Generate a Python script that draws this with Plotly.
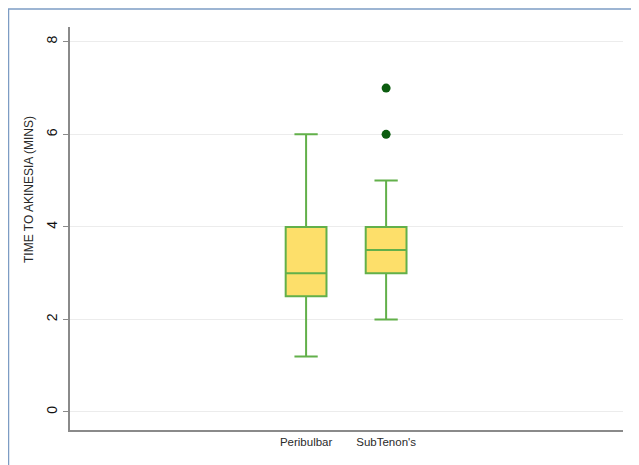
import plotly.graph_objects as go

categories = ["Peribulbar", "SubTenon's"]
q1 = [2.5, 3.0]
median = [3.0, 3.5]
q3 = [4.0, 4.0]
lower = [1.2, 2.0]
upper = [6.0, 5.0]
outlier_cat = ["SubTenon's", "SubTenon's"]
outlier_val = [6.0, 7.0]
y_ticks = [0, 2, 4, 6, 8]

# page body has an 8px margin; figure placed at (8, 8)
OFF = 8
W, H = 639 - OFF, 465 - OFF
L, R, T, B = 70 - OFF, 16, 27 - OFF, 35
pw, ph = W - L - R, H - T - B

def px_x(x):
    return (x - OFF - L) / pw

def px_y(y):
    return (H - B - (y - OFF)) / ph

fig = go.Figure()
fig.add_trace(go.Box(
    x=categories, q1=q1, median=median, q3=q3,
    lowerfence=lower, upperfence=upper,
    fillcolor="#fddf6a", line=dict(color="#62b04a", width=2),
    width=0.51, whiskerwidth=0.57, boxpoints=False, showlegend=False,
))
fig.add_trace(go.Scatter(
    x=outlier_cat, y=outlier_val, mode="markers",
    marker=dict(color="#0b5c0f", size=9), showlegend=False,
))

font = "Liberation Sans, Arial, sans-serif"
fig.update_layout(
    width=W, height=H,
    margin=dict(l=L, r=R, t=T, b=B),
    paper_bgcolor="white", plot_bgcolor="white",
    font=dict(family=font, color="#222"),
    xaxis=dict(
        type="category", range=[-2.95, 3.96],
        showgrid=False, showline=True, linecolor="#8a8a8a", linewidth=2,
        ticks="", tickfont=dict(size=11.5, color="#2a2a2a"), zeroline=False,
    ),
    yaxis=dict(
        range=[-0.39, 8.32], tickvals=y_ticks, tickangle=-90,
        showgrid=True, gridcolor="#ececec", gridwidth=1,
        showline=True, linecolor="#8a8a8a", linewidth=2,
        ticks="outside", ticklen=5, tickcolor="#8a8a8a",
        tickfont=dict(size=14, color="#111"), zeroline=False,
    ),
    annotations=[dict(
        text="TIME TO AKINESIA (MINS)", textangle=-90,
        xref="paper", yref="paper", x=px_x(29), y=px_y(190),
        xanchor="center", yanchor="middle", showarrow=False,
        font=dict(size=12, color="#2a2a2a", family=font),
    )],
    shapes=[
        dict(type="line", xref="paper", yref="paper",
             x0=px_x(8.5), x1=px_x(8.5), y0=px_y(9), y1=px_y(465),
             line=dict(color="#7d9cc4", width=1.5)),
        dict(type="line", xref="paper", yref="paper",
             x0=px_x(8), x1=px_x(639), y0=px_y(9), y1=px_y(9),
             line=dict(color="#7d9cc4", width=1.5)),
        dict(type="line", xref="paper", yref="paper",
             x0=px_x(632), x1=px_x(632), y0=px_y(9), y1=px_y(465),
             line=dict(color="#e6edf6", width=1.5)),
    ],
)

fig.write_html("out.html")
